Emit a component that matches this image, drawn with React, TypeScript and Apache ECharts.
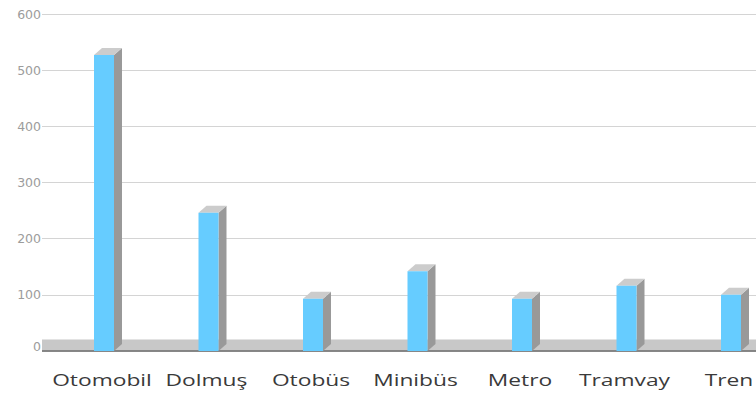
import React, { useEffect, useRef } from "react";
import * as echarts from "echarts";

const categories = ["Otomobil", "Dolmuş", "Otobüs", "Minibüs", "Metro", "Tramvay", "Tren"];
const values = [527, 246, 93, 142, 93, 116, 100];
const yMin = 0;
const yMax = 600;
const yStep = 100;

export default function App() {
  const ref = useRef<HTMLDivElement>(null);
  useEffect(() => {
    document.body.style.margin = "0";
    const chart = echarts.init(ref.current!, null, { renderer: "svg" });
    const option: any = {
      animation: false,
      backgroundColor: "#ffffff",
      grid: { left: 42, right: 0, top: 14, bottom: 43 },
      xAxis: {
        type: "value",
        min: -0.5742,
        max: 6.2584,
        show: false,
        splitLine: { show: false },
      },
      yAxis: {
        type: "value",
        min: yMin,
        max: yMax,
        interval: yStep,
        axisLine: { show: false },
        axisTick: { show: false },
        axisLabel: {
          margin: 1,
          color: "#9c9c9c",
          fontFamily: "DejaVu Sans",
          fontSize: 12.5,
          formatter: (v: number) => (v === 0 ? "{z|0}" : String(v)),
          rich: {
            z: {
              color: "#9c9c9c",
              fontFamily: "DejaVu Sans",
              fontSize: 12.5,
              padding: [0, 0, 10, 0],
            },
          },
        },
        splitLine: { lineStyle: { color: "#d4d4d4", width: 1 } },
      },
      series: [
        {
          type: "custom",
          silent: true,
          z: 1,
          data: [[0, 0]],
          renderItem: (params: any, api: any) => {
            const base = api.coord([0, 0]);
            const cs = params.coordSys;
            const y0 = base[1];
            const left = cs.x;
            const right = cs.x + cs.width;
            return {
              type: "group",
              children: [
                {
                  type: "rect",
                  shape: { x: left, y: y0 - 11.5, width: right - left, height: 11.5 },
                  style: { fill: "#c8c8c8" },
                },
                {
                  type: "line",
                  shape: { x1: left, y1: y0, x2: right, y2: y0 },
                  style: { stroke: "#6e6e6e", lineWidth: 1.5 },
                },
              ],
            };
          },
        },
        {
          type: "custom",
          silent: true,
          z: 2,
          data: values.map((v, i) => [i, v]),
          renderItem: (params: any, api: any) => {
            const i = api.value(0);
            const top = api.coord([i, api.value(1)]);
            const bot = api.coord([i, 0]);
            const cx = top[0] + 2;
            const w = 20;
            const x1 = cx - w / 2;
            const x2 = cx + w / 2;
            const dx = 8;
            const dy = 7;
            return {
              type: "group",
              children: [
                {
                  type: "polygon",
                  shape: {
                    points: [
                      [x2, top[1]],
                      [x2 + dx, top[1] - dy],
                      [x2 + dx, bot[1] - dy],
                      [x2, bot[1]],
                    ],
                  },
                  style: { fill: "#999999" },
                },
                {
                  type: "polygon",
                  shape: {
                    points: [
                      [x1, top[1]],
                      [x1 + dx, top[1] - dy],
                      [x2 + dx, top[1] - dy],
                      [x2, top[1]],
                    ],
                  },
                  style: { fill: "#cccccc" },
                },
                {
                  type: "rect",
                  shape: { x: x1, y: top[1], width: w, height: bot[1] - top[1] },
                  style: { fill: "#66ccff" },
                },
                {
                  type: "text",
                  x: top[0],
                  y: bot[1] + 29,
                  scaleX: 1.34,
                  style: {
                    text: categories[i],
                    x: 0,
                    y: 0,
                    align: "center",
                    verticalAlign: "middle",
                    fill: "#3a3a3a",
                    fontSize: 17,
                    fontFamily: "Open Sans",
                  },
                },
              ],
            };
          },
        },
      ],
    };
    chart.setOption(option);
    return () => chart.dispose();
  }, []);
  return <div ref={ref} style={{ width: 756, height: 394 }} />;
}
